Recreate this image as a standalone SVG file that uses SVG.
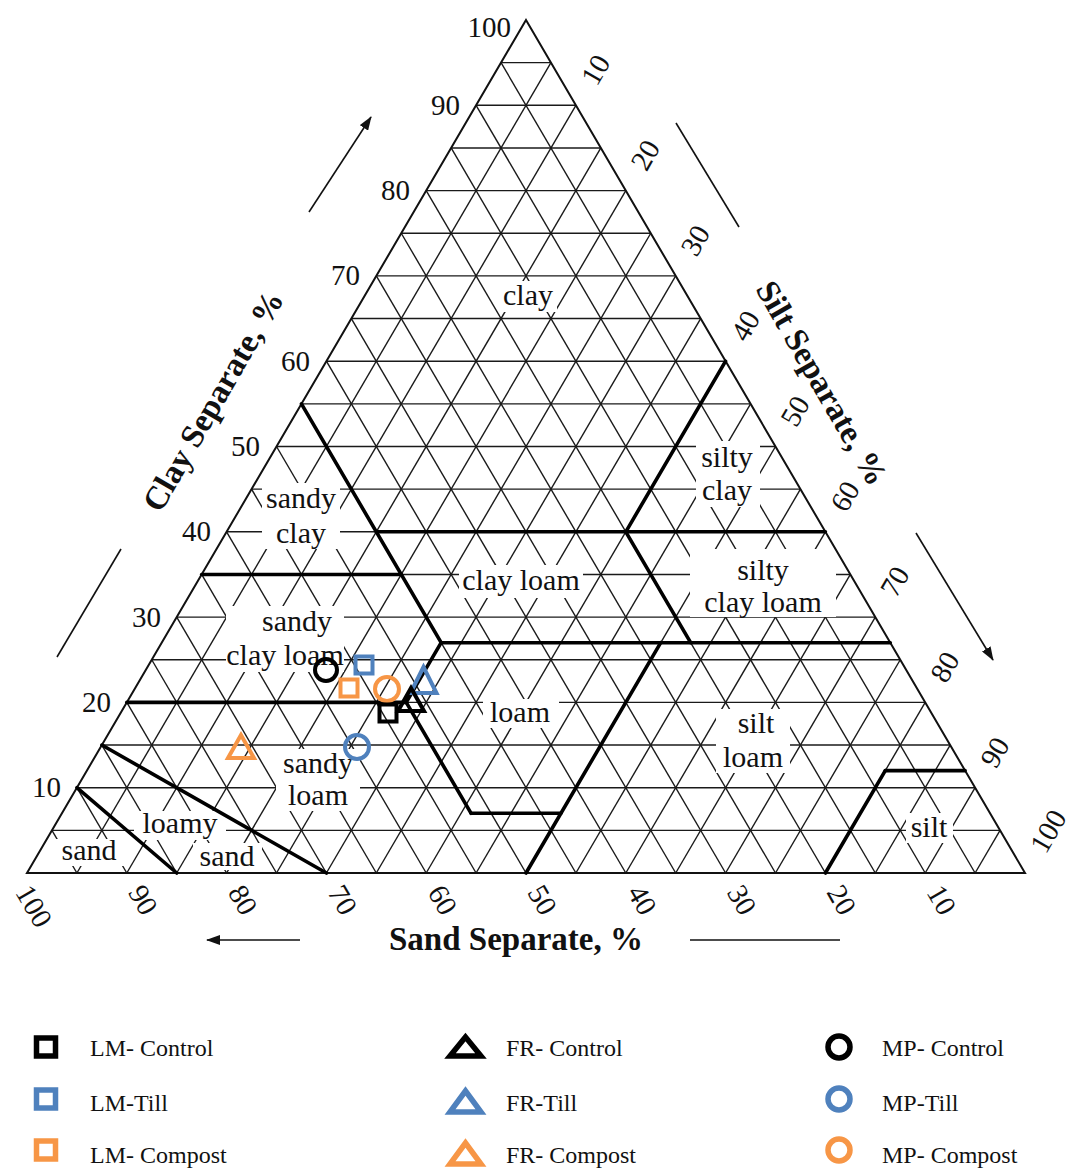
<svg xmlns="http://www.w3.org/2000/svg" width="1073" height="1169" viewBox="0 0 1073 1169">
<style>
.g{stroke:#1a1a1a;stroke-width:1.4;fill:none}
.b{stroke:#000;stroke-width:3.6;fill:none;stroke-linecap:round}
.gap{fill:#fff;stroke:none}
.lbl{font-family:"Liberation Serif","Times New Roman",serif;font-size:30px;fill:#111;text-anchor:middle}
.num{font-family:"Liberation Serif","Times New Roman",serif;font-size:29px;fill:#111}
.ttl{font-family:"Liberation Serif","Times New Roman",serif;font-size:33px;font-weight:bold;fill:#111;text-anchor:middle}
.leg{font-family:"Liberation Serif","Times New Roman",serif;font-size:24px;fill:#111}
.ax{stroke:#111;stroke-width:1.6;fill:none}
.k{stroke:#000}
.bl{stroke:#4F81BD}
.or{stroke:#F79646}
.mk{fill:none;stroke-width:4}
.lg{fill:none;stroke-width:5.5}
</style>
<defs>
<marker id="ah" viewBox="0 0 14 10" refX="13" refY="5" markerWidth="14" markerHeight="10" markerUnits="userSpaceOnUse" orient="auto">
<path d="M0,0 L14,5 L0,10 Z" fill="#111"/>
</marker>
</defs>
<rect width="1073" height="1169" fill="#fff"/>

<g id="grid" class="g">
<line x1="51.95" y1="830.35" x2="1000.05" y2="830.35"/>
<line x1="76.9" y1="787.7" x2="975.1" y2="787.7"/>
<line x1="101.85" y1="745.05" x2="950.15" y2="745.05"/>
<line x1="126.8" y1="702.4" x2="925.2" y2="702.4"/>
<line x1="151.75" y1="659.75" x2="900.25" y2="659.75"/>
<line x1="176.7" y1="617.1" x2="875.3" y2="617.1"/>
<line x1="201.65" y1="574.45" x2="850.35" y2="574.45"/>
<line x1="226.6" y1="531.8" x2="825.4" y2="531.8"/>
<line x1="251.55" y1="489.15" x2="800.45" y2="489.15"/>
<line x1="276.5" y1="446.5" x2="775.5" y2="446.5"/>
<line x1="301.45" y1="403.85" x2="750.55" y2="403.85"/>
<line x1="326.4" y1="361.2" x2="725.6" y2="361.2"/>
<line x1="351.35" y1="318.55" x2="700.65" y2="318.55"/>
<line x1="376.3" y1="275.9" x2="675.7" y2="275.9"/>
<line x1="401.25" y1="233.25" x2="650.75" y2="233.25"/>
<line x1="426.2" y1="190.6" x2="625.8" y2="190.6"/>
<line x1="451.15" y1="147.95" x2="600.85" y2="147.95"/>
<line x1="476.1" y1="105.3" x2="575.9" y2="105.3"/>
<line x1="501.05" y1="62.65" x2="550.95" y2="62.65"/>
<line x1="76.9" y1="873" x2="550.95" y2="62.65"/>
<line x1="126.8" y1="873" x2="575.9" y2="105.3"/>
<line x1="176.7" y1="873" x2="600.85" y2="147.95"/>
<line x1="226.6" y1="873" x2="625.8" y2="190.6"/>
<line x1="276.5" y1="873" x2="650.75" y2="233.25"/>
<line x1="326.4" y1="873" x2="675.7" y2="275.9"/>
<line x1="376.3" y1="873" x2="700.65" y2="318.55"/>
<line x1="426.2" y1="873" x2="725.6" y2="361.2"/>
<line x1="476.1" y1="873" x2="750.55" y2="403.85"/>
<line x1="526" y1="873" x2="775.5" y2="446.5"/>
<line x1="575.9" y1="873" x2="800.45" y2="489.15"/>
<line x1="625.8" y1="873" x2="825.4" y2="531.8"/>
<line x1="675.7" y1="873" x2="850.35" y2="574.45"/>
<line x1="725.6" y1="873" x2="875.3" y2="617.1"/>
<line x1="775.5" y1="873" x2="900.25" y2="659.75"/>
<line x1="825.4" y1="873" x2="925.2" y2="702.4"/>
<line x1="875.3" y1="873" x2="950.15" y2="745.05"/>
<line x1="925.2" y1="873" x2="975.1" y2="787.7"/>
<line x1="975.1" y1="873" x2="1000.05" y2="830.35"/>
<line x1="975.1" y1="873" x2="501.05" y2="62.65"/>
<line x1="925.2" y1="873" x2="476.1" y2="105.3"/>
<line x1="875.3" y1="873" x2="451.15" y2="147.95"/>
<line x1="825.4" y1="873" x2="426.2" y2="190.6"/>
<line x1="775.5" y1="873" x2="401.25" y2="233.25"/>
<line x1="725.6" y1="873" x2="376.3" y2="275.9"/>
<line x1="675.7" y1="873" x2="351.35" y2="318.55"/>
<line x1="625.8" y1="873" x2="326.4" y2="361.2"/>
<line x1="575.9" y1="873" x2="301.45" y2="403.85"/>
<line x1="526" y1="873" x2="276.5" y2="446.5"/>
<line x1="476.1" y1="873" x2="251.55" y2="489.15"/>
<line x1="426.2" y1="873" x2="226.6" y2="531.8"/>
<line x1="376.3" y1="873" x2="201.65" y2="574.45"/>
<line x1="326.4" y1="873" x2="176.7" y2="617.1"/>
<line x1="276.5" y1="873" x2="151.75" y2="659.75"/>
<line x1="226.6" y1="873" x2="126.8" y2="702.4"/>
<line x1="176.7" y1="873" x2="101.85" y2="745.05"/>
<line x1="126.8" y1="873" x2="76.9" y2="787.7"/>
<line x1="76.9" y1="873" x2="51.95" y2="830.35"/>
</g>

<g id="label-gaps">
<rect class="gap" x="500" y="281" width="57" height="31"/>
<rect class="gap" x="696" y="441" width="64" height="66"/>
<rect class="gap" x="262" y="483" width="78" height="66"/>
<rect class="gap" x="459" y="565" width="124" height="33"/>
<rect class="gap" x="690" y="549" width="146" height="68"/>
<rect class="gap" x="226" y="606" width="118" height="66"/>
<rect class="gap" x="483" y="699" width="76" height="29"/>
<rect class="gap" x="716" y="709" width="74" height="64"/>
<rect class="gap" x="276" y="749" width="84" height="62"/>
<rect class="gap" x="134" y="811" width="92" height="29"/>
<rect class="gap" x="56" y="839" width="68" height="27"/>
<rect class="gap" x="193" y="843" width="69" height="27"/>
<rect class="gap" x="906" y="813" width="47" height="30"/>
</g>

<g id="outline">
<polygon points="526,20 1025,873 27,873" fill="none" stroke="#111" stroke-width="2"/>
</g>

<g id="boundaries" class="b">
<line x1="376.3" y1="531.8" x2="825.4" y2="531.8"/>
<line x1="625.8" y1="531.8" x2="725.6" y2="361.2"/>
<line x1="301.45" y1="403.85" x2="441.17" y2="642.69"/>
<line x1="201.65" y1="574.45" x2="401.25" y2="574.45"/>
<line x1="441.17" y1="642.69" x2="890.27" y2="642.69"/>
<line x1="441.17" y1="642.69" x2="406.24" y2="702.4"/>
<line x1="406.24" y1="702.4" x2="471.11" y2="813.29"/>
<line x1="471.11" y1="813.29" x2="560.93" y2="813.29"/>
<line x1="526" y1="873" x2="660.73" y2="642.69"/>
<line x1="690.67" y1="642.69" x2="625.8" y2="531.8"/>
<line x1="825.4" y1="873" x2="885.28" y2="770.64"/>
<line x1="885.28" y1="770.64" x2="965.12" y2="770.64"/>
<line x1="126.8" y1="702.4" x2="406.24" y2="702.4"/>
<line x1="101.85" y1="745.05" x2="326.4" y2="873"/>
<line x1="76.9" y1="787.7" x2="176.7" y2="873"/>
</g>

<g id="class-labels" class="lbl">
<text x="528" y="305">clay</text>
<text x="727" y="467">silty</text>
<text x="727" y="500">clay</text>
<text x="301" y="508">sandy</text>
<text x="301" y="543">clay</text>
<text x="521" y="590">clay loam</text>
<text x="763" y="580">silty</text>
<text x="763" y="612">clay loam</text>
<text x="297" y="631">sandy</text>
<text x="285" y="665">clay loam</text>
<text x="520" y="722">loam</text>
<text x="756" y="733">silt</text>
<text x="753" y="767">loam</text>
<text x="318" y="773">sandy</text>
<text x="318" y="805">loam</text>
<text x="180" y="833">loamy</text>
<text x="89" y="860">sand</text>
<text x="227" y="866">sand</text>
<text x="929" y="837">silt</text>
</g>

<g id="clay-axis">
<g class="num" text-anchor="end">
<text x="511" y="37">100</text>
<text x="460" y="115">90</text>
<text x="410" y="200">80</text>
<text x="360" y="285">70</text>
<text x="310" y="371">60</text>
<text x="260" y="456">50</text>
<text x="211" y="541">40</text>
<text x="161" y="627">30</text>
<text x="111" y="712">20</text>
<text x="61" y="797">10</text>
</g>
<text class="ttl" transform="translate(213,401) rotate(-60)" x="0" y="11">Clay Separate, %</text>
<line class="ax" x1="309" y1="212" x2="371" y2="117" marker-end="url(#ah)"/>
<line class="ax" x1="57" y1="657" x2="121" y2="549"/>
</g>

<g id="silt-axis">
<g class="num">
<text transform="translate(575.9,105.3) rotate(-60)" x="26" y="9">10</text>
<text transform="translate(625.8,190.6) rotate(-60)" x="26" y="9">20</text>
<text transform="translate(675.7,275.9) rotate(-60)" x="26" y="9">30</text>
<text transform="translate(725.6,361.2) rotate(-60)" x="26" y="9">40</text>
<text transform="translate(775.5,446.5) rotate(-60)" x="26" y="9">50</text>
<text transform="translate(825.4,531.8) rotate(-60)" x="26" y="9">60</text>
<text transform="translate(875.3,617.1) rotate(-60)" x="26" y="9">70</text>
<text transform="translate(925.2,702.4) rotate(-60)" x="26" y="9">80</text>
<text transform="translate(975.1,787.7) rotate(-60)" x="26" y="9">90</text>
<text transform="translate(1025,873) rotate(-60)" x="26" y="9">100</text>
</g>
<text class="ttl" transform="translate(822,383) rotate(60)" x="0" y="11">Silt Separate, %</text>
<line class="ax" x1="676" y1="123" x2="739" y2="227"/>
<line class="ax" x1="916" y1="533" x2="993" y2="660" marker-end="url(#ah)"/>
</g>

<g id="sand-axis">
<g class="num">
<text transform="translate(14,873) rotate(60)" x="17" y="9">100</text>
<text transform="translate(126.8,873) rotate(60)" x="17" y="9">90</text>
<text transform="translate(226.6,873) rotate(60)" x="17" y="9">80</text>
<text transform="translate(326.4,873) rotate(60)" x="17" y="9">70</text>
<text transform="translate(426.2,873) rotate(60)" x="17" y="9">60</text>
<text transform="translate(526,873) rotate(60)" x="17" y="9">50</text>
<text transform="translate(625.8,873) rotate(60)" x="17" y="9">40</text>
<text transform="translate(725.6,873) rotate(60)" x="17" y="9">30</text>
<text transform="translate(825.4,873) rotate(60)" x="17" y="9">20</text>
<text transform="translate(925.2,873) rotate(60)" x="17" y="9">10</text>
</g>
<text class="ttl" x="516" y="950">Sand Separate, %</text>
<line class="ax" x1="300" y1="940" x2="207" y2="940" marker-end="url(#ah)"/>
<line class="ax" x1="690" y1="940" x2="840" y2="940"/>
</g>

<g id="data-points" class="mk">
<circle id="mp-control" class="k" cx="326" cy="670" r="11"/>
<rect id="lm-till" class="bl" x="355.5" y="656.5" width="17" height="17"/>
<rect id="lm-compost" class="or" x="340.5" y="679.5" width="17" height="17"/>
<circle id="mp-compost" class="or" cx="387" cy="689" r="12"/>
<polygon id="fr-till" class="bl" points="423.5,667 410.5,693 436.5,693"/>
<polygon id="fr-control" class="k" points="411,688 398,711 424,711"/>
<rect id="lm-control" class="k" x="379.5" y="704.5" width="17" height="17"/>
<circle id="mp-till" class="bl" cx="357" cy="747" r="12"/>
<polygon id="fr-compost" class="or" points="241,735 228,758 254,758"/>
</g>

<g id="legend">
<g class="lg">
<rect class="k" x="36.5" y="1038" width="19" height="18"/>
<rect class="bl" x="36.5" y="1090" width="19" height="18"/>
<rect class="or" x="36.5" y="1141" width="19" height="18"/>
<polygon class="k" points="465.5,1037 450,1056 481,1056"/>
<polygon class="bl" points="465.5,1091 450,1112 481,1112"/>
<polygon class="or" points="465.5,1143 450,1164 481,1164"/>
<circle class="k" cx="839" cy="1047" r="11"/>
<circle class="bl" cx="839" cy="1099" r="11"/>
<circle class="or" cx="839" cy="1150" r="11"/>
</g>
<g class="leg">
<text x="90" y="1056">LM- Control</text>
<text x="90" y="1111">LM-Till</text>
<text x="90" y="1163">LM- Compost</text>
<text x="506" y="1056">FR- Control</text>
<text x="506" y="1111">FR-Till</text>
<text x="506" y="1163">FR- Compost</text>
<text x="882" y="1056">MP- Control</text>
<text x="882" y="1111">MP-Till</text>
<text x="882" y="1163">MP- Compost</text>
</g>
</g>
</svg>
